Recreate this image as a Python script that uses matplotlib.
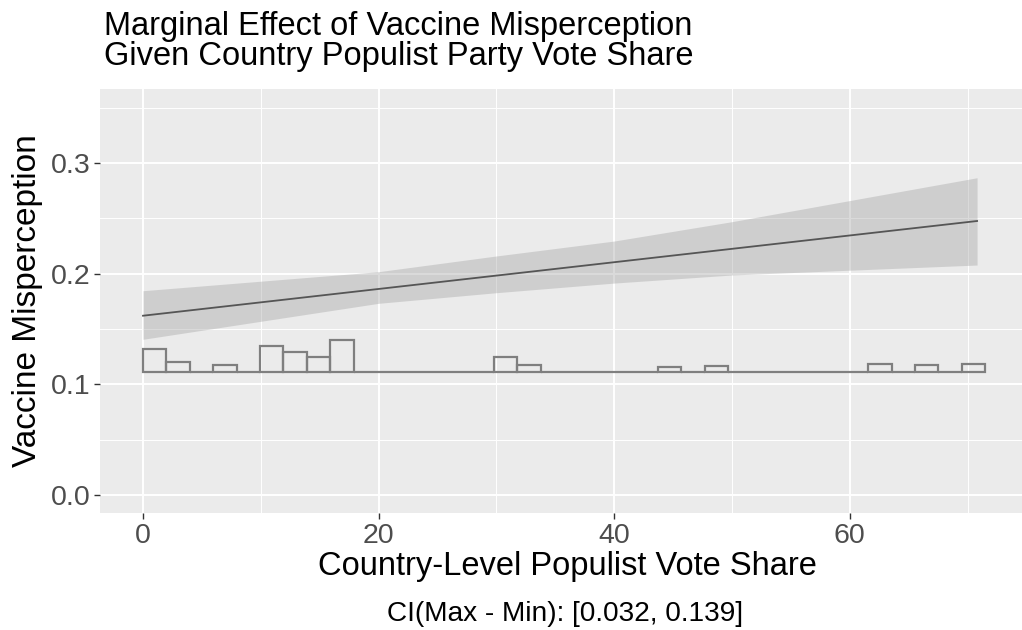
import numpy as np
import matplotlib
matplotlib.use("Agg")
import matplotlib.pyplot as plt
from matplotlib.ticker import MultipleLocator

plt.rcParams['font.family'] = ['Liberation Sans', 'DejaVu Sans']

# ---- data ----
effect_x = [0.0, 70.8]
effect_y = [0.162, 0.2476]

band_x = [0.0, 20.0, 30.0, 40.0, 50.0, 70.8]
band_lo = [0.1407, 0.1732, 0.1828, 0.1915, 0.1988, 0.2078]
band_hi = [0.1846, 0.2018, 0.2160, 0.2295, 0.2470, 0.2867]

hist_start = 0.0
hist_binwidth = 1.986
hist_base = 0.111
# bar heights (in y units above the baseline), one per bin
hist_heights = [0.0211, 0.0090, 0.0, 0.0061, 0.0, 0.0232, 0.0183, 0.0136, 0.0292,
                0.0, 0.0, 0.0, 0.0, 0.0, 0.0, 0.0138, 0.0066, 0.0, 0.0, 0.0, 0.0,
                0.0, 0.0042, 0.0, 0.0054, 0.0, 0.0, 0.0, 0.0, 0.0, 0.0, 0.0072,
                0.0, 0.0063, 0.0, 0.0070]

x_ticks = [0, 20, 40, 60]
y_ticks = [0.0, 0.1, 0.2, 0.3]
y_ticklabels = ["0.0", "0.1", "0.2", "0.3"]

title = "Marginal Effect of Vaccine Misperception\nGiven Country Populist Party Vote Share"
xlabel = "Country-Level Populist Vote Share"
ylabel = "Vaccine Misperception"
caption = "CI(Max - Min): [0.032, 0.139]"

# ---- figure ----
W, H = 1022, 630
fig = plt.figure(figsize=(W / 100, H / 100), dpi=100)
fig.patch.set_facecolor("white")

left_px, right_px, top_px, bottom_px = 100, 1046, 89, 513
ax = fig.add_axes([left_px / W, 1 - bottom_px / H,
                   (right_px - left_px) / W, (bottom_px - top_px) / H])
ax.set_facecolor("#EBEBEB")
for s in ax.spines.values():
    s.set_visible(False)

ax.set_xlim(-3.65, 76.65)
ax.set_ylim(-0.0163, 0.3669)

ax.set_xticks(x_ticks)
ax.set_yticks(y_ticks)
ax.set_yticklabels(y_ticklabels)
ax.xaxis.set_minor_locator(MultipleLocator(10))
ax.yaxis.set_minor_locator(MultipleLocator(0.05))
ax.grid(which="major", color="white", linewidth=1.4)
ax.grid(which="minor", color="white", linewidth=0.7)
ax.set_axisbelow(True)
ax.tick_params(which="major", length=4, width=1.0, color="#333333",
               labelcolor="#4D4D4D", labelsize=20.5, pad=3)
ax.tick_params(which="minor", length=0)

# histogram (distribution of the moderator)
edges = hist_start + hist_binwidth * np.arange(len(hist_heights))
ax.bar(edges, hist_heights, width=hist_binwidth, bottom=hist_base, align="edge",
       fill=False, edgecolor="#7F7F7F", linewidth=1.6, zorder=3)

# ribbon and effect line
ax.fill_between(band_x, band_lo, band_hi, color="#9E9E9E", alpha=0.37,
                linewidth=0, zorder=2)
ax.plot(effect_x, effect_y, color="#555555", linewidth=1.3, zorder=4)

ax.set_xlabel(xlabel, fontsize=23.5, color="black")
ax.set_ylabel(ylabel, fontsize=24, color="black")
ax.xaxis.set_label_coords((567 - left_px) / (right_px - left_px),
                          -(575 - bottom_px) / (bottom_px - top_px))
ax.xaxis.label.set_va("baseline")
ax.yaxis.set_label_coords(-(100 - 28) / (right_px - left_px), 0.5)
ax.yaxis.label.set_va("center")

fig.text(104 / W, 1 - 10.5 / H, title, fontsize=23.5, ha="left", va="top",
         linespacing=0.97, color="black")
fig.text(565 / W, 1 - 621 / H, caption, fontsize=20.2, ha="center",
         va="baseline", color="black")

fig.savefig("out.png", dpi=100)
